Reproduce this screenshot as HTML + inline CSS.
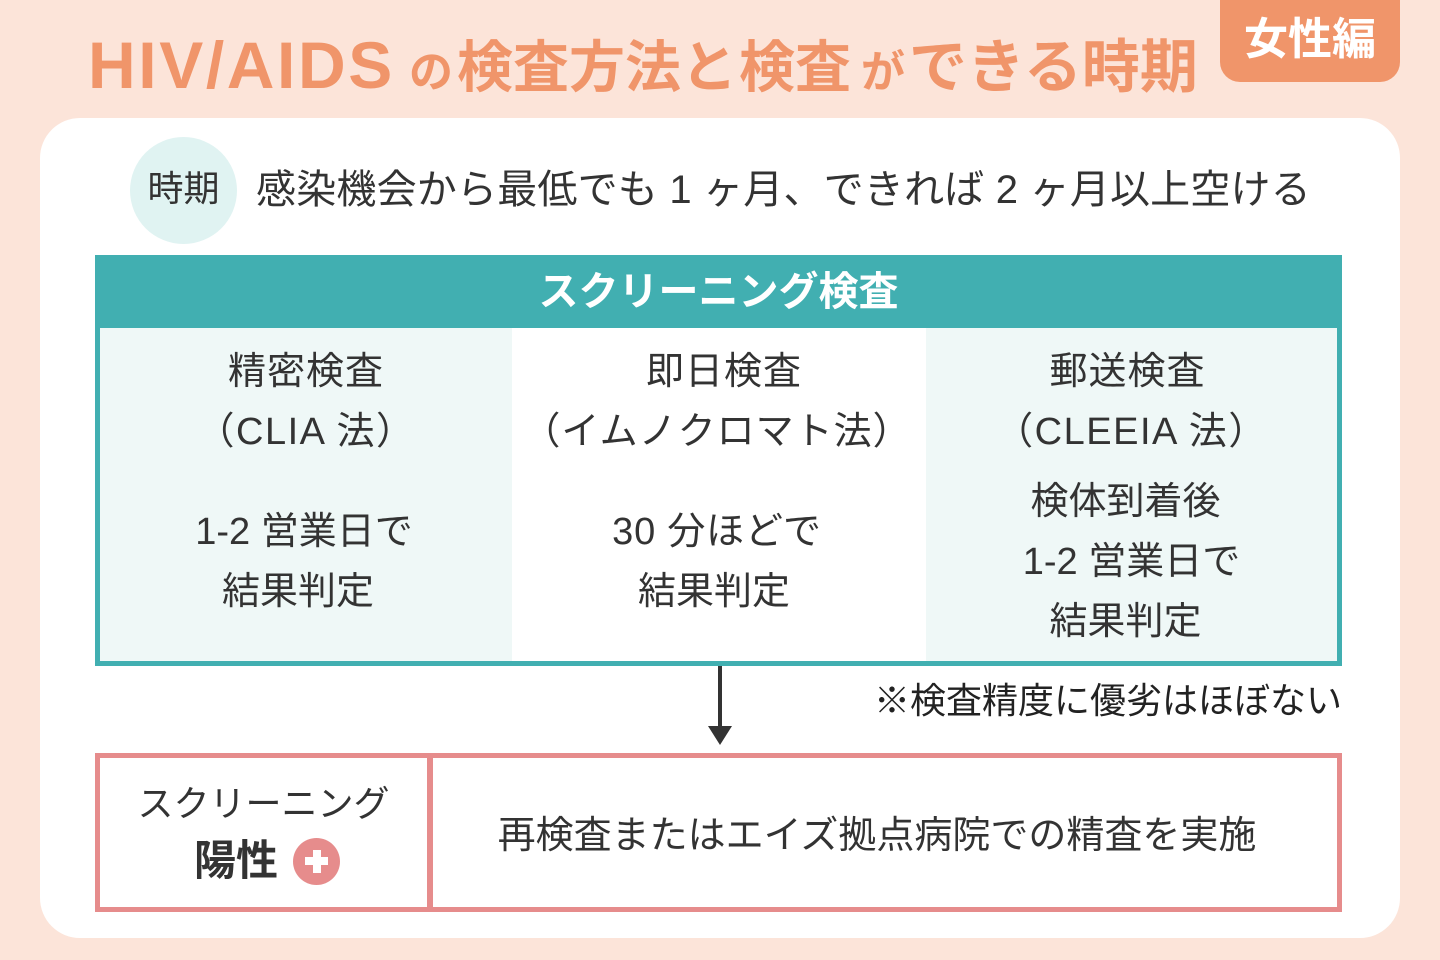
<!DOCTYPE html>
<html lang="ja">
<head>
<meta charset="utf-8">
<style>
  html,body{margin:0;padding:0;}
  body{width:1440px;height:960px;position:relative;overflow:hidden;background:#FCE4D9;
    font-family:"Liberation Sans","Noto Sans CJK JP",sans-serif;color:#333;}
  .a{position:absolute;white-space:nowrap;}
  .c{text-align:center;}
  .ttl{color:#F0956A;font-weight:bold;line-height:1;}
  .cell{font-size:38px;line-height:50px;}
  .p1{margin-left:-0.42em;}
  .p2{margin-right:-0.42em;}
</style>
</head>
<body>

<!-- Title -->
<div class="a ttl" style="left:88px;top:32px;font-size:66px;letter-spacing:2.6px;">HIV/AIDS</div>
<div class="a ttl" style="left:409px;top:51px;font-size:44px;">の</div>
<div class="a ttl" style="left:457px;top:40px;font-size:56px;">検査方法と</div>
<div class="a ttl" style="left:739px;top:40px;font-size:56px;">検査</div>
<div class="a ttl" style="left:861px;top:51px;font-size:44px;">が</div>
<div class="a ttl" style="left:909px;top:39px;font-size:58px;">できる時期</div>

<!-- Tag -->
<div class="a" style="left:1220px;top:-20px;width:180px;height:102px;background:#F0956A;border-radius:20px;"></div>
<div class="a c" style="left:1220px;top:14px;width:180px;line-height:52px;font-size:44px;font-weight:bold;color:#fff;">女性編</div>

<!-- White panel -->
<div class="a" style="left:40px;top:118px;width:1360px;height:820px;background:#fff;border-radius:40px;"></div>

<!-- Period row -->
<div class="a" style="left:130px;top:137px;width:107px;height:107px;border-radius:50%;background:#E0F3F2;"></div>
<div class="a c" style="left:130px;top:164px;width:107px;line-height:50px;font-size:36px;">時期</div>
<div class="a" style="left:256px;top:165px;line-height:50px;font-size:40px;letter-spacing:0.2px;">感染機会から最低でも 1 ヶ月、できれば 2 ヶ月以上空ける</div>

<!-- Teal table -->
<div class="a" style="left:95px;top:255px;width:1247px;height:411px;background:#41AFB1;"></div>
<div class="a c" style="left:95px;top:267px;width:1247px;line-height:50px;font-size:40px;font-weight:bold;color:#fff;">スクリーニング検査</div>
<div class="a" style="left:100px;top:328px;width:412px;height:333px;background:#EFF8F7;"></div>
<div class="a" style="left:512px;top:328px;width:414px;height:333px;background:#fff;"></div>
<div class="a" style="left:926px;top:328px;width:411px;height:333px;background:#EFF8F7;"></div>

<!-- col 1 -->
<div class="a c cell" style="left:100px;width:412px;top:347px;letter-spacing:1px;">精密検査</div>
<div class="a c cell" style="left:100px;width:412px;top:407px;letter-spacing:1.5px;"><span class="p1">（</span>CLIA 法<span class="p2">）</span></div>
<div class="a c cell" style="left:98px;width:412px;top:507px;">1-2 営業日で</div>
<div class="a c cell" style="left:92px;width:412px;top:567px;">結果判定</div>

<!-- col 2 -->
<div class="a c cell" style="left:517px;width:414px;top:347px;letter-spacing:1px;">即日検査</div>
<div class="a c cell" style="left:510px;width:414px;top:407px;letter-spacing:1px;"><span class="p1">（</span>イムノクロマト法<span class="p2">）</span></div>
<div class="a c cell" style="left:510px;width:414px;top:507px;letter-spacing:0.8px;">30 分ほどで</div>
<div class="a c cell" style="left:507px;width:414px;top:567px;">結果判定</div>

<!-- col 3 -->
<div class="a c cell" style="left:922px;width:411px;top:347px;letter-spacing:1px;">郵送検査</div>
<div class="a c cell" style="left:926px;width:411px;top:407px;letter-spacing:1.5px;"><span class="p1">（</span>CLEEIA 法<span class="p2">）</span></div>
<div class="a c cell" style="left:920px;width:411px;top:477px;">検体到着後</div>
<div class="a c cell" style="left:926px;width:411px;top:537px;">1-2 営業日で</div>
<div class="a c cell" style="left:920px;width:411px;top:597px;">結果判定</div>

<!-- Arrow -->
<svg class="a" style="left:0;top:0;" width="1440" height="960">
  <line x1="720" y1="666" x2="720" y2="730" stroke="#333" stroke-width="4"/>
  <polygon points="708,726 732,726 720,745" fill="#333"/>
</svg>

<!-- Note -->
<div class="a" style="left:840px;width:502px;text-align:right;top:676px;line-height:50px;font-size:36px;color:#222;">※検査精度に優劣はほぼない</div>

<!-- Pink box -->
<div class="a" style="left:95px;top:753px;width:1237px;height:149px;border:5px solid #E68C8C;background:#fff;"></div>
<div class="a" style="left:427px;top:753px;width:6px;height:159px;background:#E68C8C;"></div>
<div class="a c" style="left:100px;top:779px;width:327px;line-height:50px;font-size:36px;">スクリーニング</div>
<div class="a" style="left:194px;top:836px;line-height:50px;font-size:42px;font-weight:bold;">陽性</div>
<div class="a" style="left:293px;top:838px;width:47px;height:47px;border-radius:50%;background:#E68C8C;"></div>
<div class="a" style="left:305px;top:857px;width:23px;height:8px;background:#fff;"></div>
<div class="a" style="left:312.5px;top:850px;width:8px;height:23px;background:#fff;"></div>
<div class="a c" style="left:425px;top:811px;width:904px;line-height:50px;font-size:38px;">再検査またはエイズ拠点病院での精査を実施</div>

</body>
</html>
